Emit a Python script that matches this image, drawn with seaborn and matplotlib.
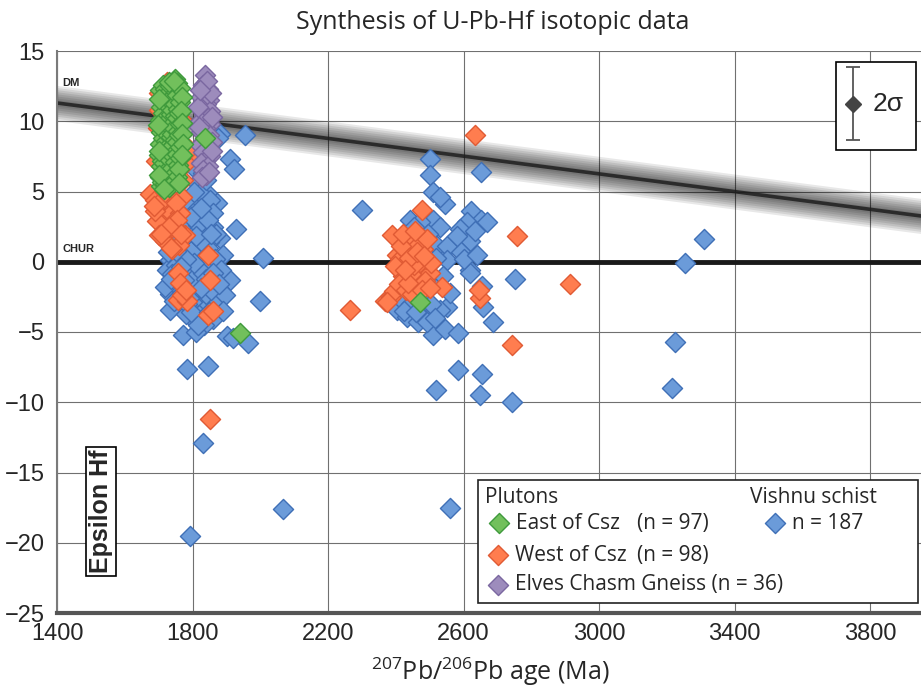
import matplotlib
matplotlib.use("Agg")
import matplotlib.pyplot as plt
import numpy as np
import seaborn as sns
from matplotlib.patches import Rectangle

# ---------------- data ----------------
# Plutons east of the Crystal shear zone (207Pb/206Pb age in Ma, epsilon Hf)
east_age = [1704, 1707, 1703, 1706, 1705, 1702, 1708, 1704, 1706,
            1712, 1710, 1714, 1711, 1713, 1712, 1709, 1714, 1711,
            1720, 1718, 1721, 1719, 1722, 1720, 1717, 1721, 1719,
            1727, 1729, 1726, 1728, 1725, 1727, 1729, 1726,
            1734, 1732, 1735, 1733, 1736, 1734, 1732, 1735, 1733,
            1741, 1743, 1740, 1742, 1739, 1741, 1743, 1740, 1742,
            1748, 1750, 1747, 1749, 1746, 1748, 1750, 1747, 1749,
            1755, 1753, 1756, 1754, 1757, 1755, 1753, 1756, 1754,
            1762, 1764, 1761, 1763, 1760, 1762, 1764, 1761,
            1769, 1767, 1770, 1768, 1771, 1769,
            1700, 1699, 1701, 1700, 1730, 1730, 1760, 1744, 1716,
            1837, 1940, 2471]
east_ehf = [12.2, 11.0, 10.1, 9.2, 8.4, 7.6, 6.8, 6.0, 5.4,
            12.6, 11.6, 10.6, 9.7, 8.8, 8.0, 7.2, 6.4, 5.7,
            12.3, 11.3, 10.3, 9.4, 8.6, 7.8, 7.0, 6.2, 5.5,
            12.0, 11.1, 10.0, 9.0, 8.2, 7.4, 6.6, 5.8,
            12.5, 11.5, 10.5, 9.6, 8.9, 8.1, 7.3, 6.5, 5.9,
            12.6, 11.8, 10.8, 9.9, 9.1, 8.3, 7.5, 6.7, 6.1,
            13.0, 12.1, 11.2, 10.4, 9.5, 8.7, 7.9, 7.1, 6.3,
            12.7, 11.9, 10.9, 10.2, 9.3, 8.5, 7.7, 6.9, 6.0,
            12.4, 11.4, 10.6, 9.8, 9.0, 8.2, 7.4, 6.6,
            11.7, 10.7, 9.9, 9.1, 8.4, 7.6,
            11.6, 9.7, 7.9, 6.2, 12.8, 5.3, 5.6, 12.9, 5.2,
            8.8, -5.1, -2.85]

# Plutons west of the Crystal shear zone
west_age = [1674, 1689, 1705, 1725, 1704, 1733, 1763, 1713, 1742, 1725,
            1778, 1695, 1718, 1750, 1760, 1700, 1740, 1845, 1757, 1852,
            1757, 1784, 1770, 1846, 1860, 1852, 1792, 1782, 1725, 1745,
            1700, 1697, 1692, 1772, 1772, 1768, 1712, 1750, 1690, 1735,
            1685, 1720, 1755, 1730, 1708, 1765, 1762, 1780, 1790, 1700,
            2265, 2368, 2385, 2395, 2389, 2403, 2412, 2433, 2451, 2480,
            2471, 2501, 2451, 2536, 2477, 2420, 2440, 2460, 2490, 2425,
            2465, 2445, 2410, 2430, 2470, 2485, 2455, 2415, 2492, 2505,
            2438, 2462, 2448, 2478, 2420, 2398, 2458, 2435, 2484, 2375,
            2634, 2757, 2914, 2648, 2645, 2743, 2500, 2426]
west_ehf = [4.8, 4.4, 4.0, 3.9, 3.3, 3.4, 3.5, 2.6, 2.8, 2.1,
            1.9, 2.9, 1.5, 2.4, 1.2, 1.9, 0.9, 0.5, -0.8, -1.3,
            -2.7, -2.8, -2.4, -3.8, -3.5, -11.2, 7.5, 7.0, 12.8, 12.5,
            12.0, 9.5, 7.2, 10.0, 5.8, 4.6, 4.5, 4.2, 3.6, 1.0,
            4.0, 5.0, 3.0, 2.5, 2.0, 2.0, -1.5, -2.0, 8.0, 10.8,
            -3.4, -2.8, -2.5, -2.1, 1.9, 0.5, 0.2, -0.4, 0.6, 0.9,
            -0.6, -0.8, -1.3, -1.8, 3.7, -1.0, 1.5, -1.8, 0.2, 0.9,
            1.2, -0.9, -1.6, -2.0, 0.0, -1.4, -0.2, 1.1, 1.6, -0.1,
            0.3, 0.7, -2.3, -2.0, 2.0, -0.3, 2.2, -1.5, 0.4, -2.9,
            9.0, 1.8, -1.6, -2.6, -2.0, -5.9, -1.9, -0.6]

# Elves Chasm Gneiss
elves_age = [1838, 1830, 1845, 1835, 1826, 1850, 1840, 1828, 1853, 1833,
             1845, 1822, 1852, 1838, 1826, 1848, 1835, 1856, 1822, 1842,
             1830, 1852, 1836, 1824, 1846, 1832, 1840, 1828, 1850, 1818,
             1858, 1816, 1855, 1843, 1822, 1857]
elves_ehf = [13.3, 12.6, 12.3, 12.0, 11.7, 11.5, 11.2, 10.9, 10.7, 10.5,
             10.2, 10.0, 9.8, 9.5, 9.2, 9.0, 8.7, 8.5, 8.3, 8.0,
             7.8, 7.5, 7.2, 7.0, 6.8, 6.5, 6.2, 6.0, 6.4, 9.6,
             10.3, 11.0, 12.0, 12.9, 12.2, 7.9]

# Vishnu schist detrital zircons
vishnu_age = [1955, 1881, 1911, 1922, 1798, 1813, 1843, 1872, 1813, 1828,
              1860, 1881, 1798, 1742, 1772, 1813, 1733, 1772, 1801, 1852,
              1725, 1813, 1872, 1911, 1742, 1793, 1881, 1733, 1822, 1763,
              1813, 1843, 1798, 1860, 1733, 1772, 1902, 1919, 1964, 1784,
              1846, 1831, 1793, 2067, 1928, 2008, 1999, 1822, 1852, 1793,
              1875, 1800, 1835, 1850, 1785, 1760, 1820, 1840, 1790, 1750,
              1865, 1830, 1805, 1760, 1850, 1790, 1745, 1870, 1820, 1780,
              1835, 1810, 1895, 1860, 1840, 1810, 1890, 1755, 1800, 1845,
              1728, 1780, 1865, 1830, 1775, 1815, 1740, 1885, 1795, 1855,
              2300, 2501, 2501, 2651, 2510, 2545, 2530, 2442, 2480, 2510,
              2530, 2622, 2650, 2610, 2589, 2669, 2451, 2471, 2565, 2619,
              2539, 2589, 2521, 2551, 2551, 2619, 2752, 2654, 2657, 2686,
              2403, 2433, 2464, 2510, 2551, 2545, 2583, 2530, 2480, 2492,
              2583, 2654, 2519, 2648, 2743, 2560, 2620, 3309, 3253, 3224,
              3215, 2420, 2445, 2460, 2490, 2505, 2425, 2470, 2495, 2455,
              2515, 2520, 2495, 2540, 2560, 2600, 2580, 2635, 2640, 2460,
              2515, 1720, 1770, 1805, 1825, 1760, 1795, 1845, 1870, 1805,
              1830, 1785, 1815, 1840, 1780, 1825, 1750, 1860, 1735, 1795,
              1850, 1878, 1765, 1810, 1855, 1890, 1825]
vishnu_ehf = [9.0, 9.1, 7.3, 6.6, 6.8, 5.6, 4.9, 4.2, 4.2, 3.2,
              2.5, 1.7, 2.3, 1.1, 0.9, 1.1, 0.1, 0.1, 0.0, -0.4,
              -0.6, -0.9, -0.9, -1.3, -1.5, -1.8, -2.0, -2.3, -2.5, -3.2,
              -3.2, -3.2, -4.0, -4.1, -3.4, -5.2, -5.3, -5.4, -5.8, -7.6,
              -7.4, -12.9, -19.5, -17.6, 2.3, 0.3, -2.8, 4.9, 4.4, 4.2,
              8.8, 3.5, 2.0, 1.4, 1.5, 0.5, 0.4, -0.3, -0.5, -0.2,
              -1.5, -1.6, -2.0, -1.9, -2.5, -2.6, -2.8, -3.0, -3.8, -3.7,
              -4.5, -5.0, -2.4, 3.5, 5.8, 7.6, 0.5, -1.0, -1.2, 1.0,
              0.7, 2.8, 0.2, -0.8, -1.3, 2.6, -0.9, -0.6, 0.8, -2.0,
              3.7, 7.3, 6.2, 6.4, 5.0, 4.1, 4.6, 3.0, 2.6, 3.0,
              2.5, 3.6, 3.0, 2.8, 2.3, 2.8, 1.4, 1.6, 1.4, 1.5,
              0.7, 0.8, 1.1, 1.1, 0.1, -0.6, -1.2, -1.7, -3.2, -4.3,
              -3.4, -3.9, -4.3, -5.2, -3.2, -4.8, -5.1, -3.4, -3.6, -4.3,
              -7.7, -8.0, -9.1, -9.5, -10.0, -17.5, -0.8, 1.6, -0.1, -5.7,
              -9.0, -2.8, -3.0, -2.6, -2.8, -3.0, -3.5, 2.8, 2.0, 2.5,
              -1.5, 0.3, -1.0, -1.0, -2.2, 0.2, 1.8, 2.2, 0.5, -3.6,
              -4.0, -1.8, -2.2, -0.1, 1.5, 1.8, 3.2, 3.0, 2.0, 5.0,
              6.3, -3.0, -4.5, -1.2, 0.2, -1.9, 0.8, -0.8, -1.2, -3.6,
              -3.6, -1.6, -0.4, 1.8, 2.0, -3.5, 3.8]

# Reference evolution lines
dm_age = [1400, 4000]       # depleted mantle
dm_ehf = [11.3, 3.1]
chur_ehf = 0.0

# Typical 2-sigma uncertainty bar
sigma_age = 3749
sigma_ehf = 11.25
sigma_err = 2.6

x_ticks = [1400, 1800, 2200, 2600, 3000, 3400, 3800]
y_ticks = [15, 10, 5, 0, -5, -10, -15, -20, -25]

# ---------------- style ----------------
sns.set_style("white")
plt.rcParams["font.family"] = ["Liberation Sans", "DejaVu Sans"]
plt.rcParams["mathtext.fontset"] = "custom"
plt.rcParams["mathtext.rm"] = "Open Sans"
plt.rcParams["mathtext.it"] = "Open Sans:italic"
plt.rcParams["mathtext.bf"] = "Open Sans:bold"

HUM = "Open Sans"
BLUE = ("#6b9bd9", "#3f6fb6")
ORANGE = ("#ff7d4f", "#e05a34")
PURPLE = ("#9d8cbc", "#7a67a0")
GREEN = ("#72c05c", "#3f9a3c")
MSIZE = 105

fig = plt.figure(figsize=(9.21, 6.92), dpi=100)
ax = fig.add_axes([57 / 921, 1 - 613 / 692, 864 / 921, 562 / 692])

# DM band: soft gray halo around a dark centre line
dm_x = np.array(dm_age, dtype=float)
dm_y = np.array(dm_ehf, dtype=float)
for half in [1.25, 1.1, 0.95, 0.8, 0.65, 0.5, 0.35, 0.22]:
    ax.fill_between(dm_x, dm_y - half, dm_y + half, color="black",
                    alpha=0.09, lw=0, zorder=2)
ax.plot(dm_x, dm_y, color="#1e1e1e", lw=2.6, alpha=0.85, zorder=2)

# CHUR reference
ax.axhline(chur_ehf, color="#1a1a1a", lw=3.5, zorder=2.5)

# Data: drawn schist first, then plutons on top
for age, ehf, (face, edge) in [(vishnu_age, vishnu_ehf, BLUE),
                               (west_age, west_ehf, ORANGE),
                               (elves_age, elves_ehf, PURPLE),
                               (east_age, east_ehf, GREEN)]:
    sns.scatterplot(x=age, y=ehf, marker="D", s=MSIZE, color=face,
                    edgecolor=edge, linewidth=1.0, ax=ax, zorder=3,
                    legend=False)

ax.set_xlim(1400, 3950)
ax.set_ylim(-25, 15)
ax.set_xticks(x_ticks)
ax.set_yticks(y_ticks)
ax.grid(True, color="#707070", lw=0.8)
ax.set_axisbelow(True)
ax.tick_params(length=0, labelsize=17)
ax.tick_params(axis="y", pad=9)
ax.tick_params(axis="x", pad=7)

for side in ["top", "right"]:
    ax.spines[side].set_visible(False)
ax.spines["left"].set_color("#7a7a7a")
ax.spines["left"].set_linewidth(1.5)
ax.spines["bottom"].set_color("#555555")
ax.spines["bottom"].set_linewidth(3)

ax.set_title("Synthesis of U-Pb-Hf isotopic data", family=HUM, fontsize=18,
             x=(493 - 57) / 864, y=(613 - 22) / 562, pad=0,
             verticalalignment="center")
ax.set_xlabel("$^{207}$Pb/$^{206}$Pb age (Ma)", family=HUM, fontsize=18)
ax.xaxis.set_label_coords((490 - 57) / 864, -0.076)
ax.set_ylabel("")

# Reference line labels
ax.text(1415, 12.7, "DM", fontsize=8, fontweight="bold", va="center", zorder=5)
ax.text(1415, 0.9, "CHUR", fontsize=8, fontweight="bold", va="center", zorder=5)

# Vertical axis title in a box
ax.text(0.051, 0.181, "Epsilon Hf", transform=ax.transAxes, rotation=90,
        fontsize=18, fontweight="bold", ha="center", va="center", zorder=6,
        bbox=dict(boxstyle="square,pad=0.12", fc="white", ec="black", lw=1.2))

# 2-sigma inset
ax.add_patch(Rectangle((0.902, 0.824), 0.092, 0.156, transform=ax.transAxes,
                       fc="white", ec="black", lw=1.2, zorder=6))
ax.errorbar([sigma_age], [sigma_ehf], yerr=sigma_err, fmt="D", color="#555555",
            mfc="#444444", mec="#444444", ms=8, capsize=5, elinewidth=1.3,
            capthick=1.3, zorder=7)
ax.text(3808, sigma_ehf, "2σ", fontsize=19, va="center", zorder=7)

# Legend panel
ax.add_patch(Rectangle((0.487, 0.018), 0.510, 0.219, transform=ax.transAxes,
                       fc="white", ec="#222222", lw=1.2, zorder=6))
LFS = 15
ax.text(0.495, 0.205, "Plutons", transform=ax.transAxes, family=HUM,
        fontsize=LFS, va="center", zorder=7)
ax.text(0.802, 0.205, "Vishnu schist", transform=ax.transAxes, family=HUM,
        fontsize=LFS, va="center", zorder=7)

legend_rows = [
    (GREEN, 0.511, 0.160, "East of Csz", f"(n = {len(east_age)})", 0.671),
    (ORANGE, 0.510, 0.103, "West of Csz", f"(n = {len(west_age)})", 0.671),
    (PURPLE, 0.510, 0.050, f"Elves Chasm Gneiss (n = {len(elves_age)})", "", 0.0),
    (BLUE, 0.831, 0.160, f"n = {len(vishnu_age)}", "", 0.0),
]
for (face, edge), mx, my, name, count, cx in legend_rows:
    ax.scatter([mx], [my], transform=ax.transAxes, marker="D", s=MSIZE,
               color=face, edgecolor=edge, linewidth=1.0, zorder=7,
               clip_on=False)
    ax.text(mx + 0.020, my, name, transform=ax.transAxes, family=HUM,
            fontsize=LFS, va="center", zorder=7)
    if count:
        ax.text(cx, my, count, transform=ax.transAxes, family=HUM,
                fontsize=LFS, va="center", zorder=7)

fig.savefig("out.png", dpi=100)
